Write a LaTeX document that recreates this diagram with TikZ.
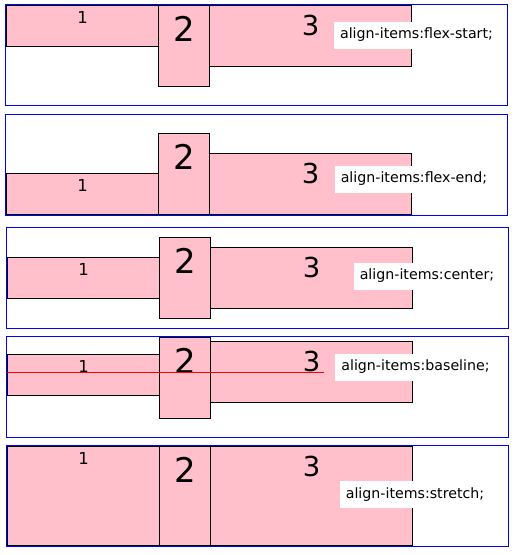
\documentclass[tikz,border=0pt]{standalone}
\usepackage{fontspec}
\setmainfont{DejaVu Sans}
\definecolor{itembg}{RGB}{255,192,203}
\begin{document}
\begin{tikzpicture}[x=1pt,y=-1pt,
    frame/.style={draw=blue,line width=1pt,minimum width=502,minimum height=101,anchor=north west,inner sep=0},
    item/.style={draw=black,fill=itembg,line width=1.2pt,anchor=north west,inner sep=0},
    num/.style={anchor=base,inner sep=0},
    lbl/.style={fill=white,font=\fontsize{14.2}{16}\selectfont,inner xsep=6pt,minimum height=27pt}]
  \useasboundingbox (0,0) rectangle (515,555);
  % one flex container per align-items value
  \foreach \n/\ft/\fx/\ya/\yb/\yc/\ha/\hb/\hc/\lx/\ly/\txt in {
      1/4/5/5/5/5/41/81/61/416.5/35/{align-items:flex-start;},
      2/114/5/173/133/153/41/81/61/414/179/{align-items:flex-end;},
      3/227/6/257/237/247/41/81/61/427/276/{align-items:center;},
      4/336/6/354/337/341/41/81/61/415.5/367/{align-items:baseline;},
      5/445/6/446/446/446/99/99/99/415/494.5/{align-items:stretch;}}{
    % items
    \node[item,minimum width=152,minimum height=\ha] (a\n) at (\fx+1,\ya) {};
    \node[item,minimum width=51,minimum height=\hb] (b\n) at (\fx+153,\yb) {};
    \node[item,minimum width=202,minimum height=\hc] (c\n) at (\fx+204,\yc) {};
    \node[num,font=\fontsize{16.5}{18}\selectfont] (ta\n) at ([yshift=-18pt]a\n.north) {1};
    \node[num,font=\fontsize{34}{36}\selectfont] (tb\n) at ([yshift=-36pt]b\n.north) {2};
    \node[num,font=\fontsize{27.5}{30}\selectfont] (tc\n) at ([yshift=-30pt]c\n.north) {3};
    % caption and container
    \node[lbl] (l\n) at (\lx,\ly) {\txt};
    \node[frame] (f\n) at (\fx,\ft) {};
  }
  % baseline marker
  \coordinate (bl) at (324,372);
  \draw[red,line width=0.9pt] (a4.west |- ta4.base) -- (bl);
\end{tikzpicture}
\end{document}
